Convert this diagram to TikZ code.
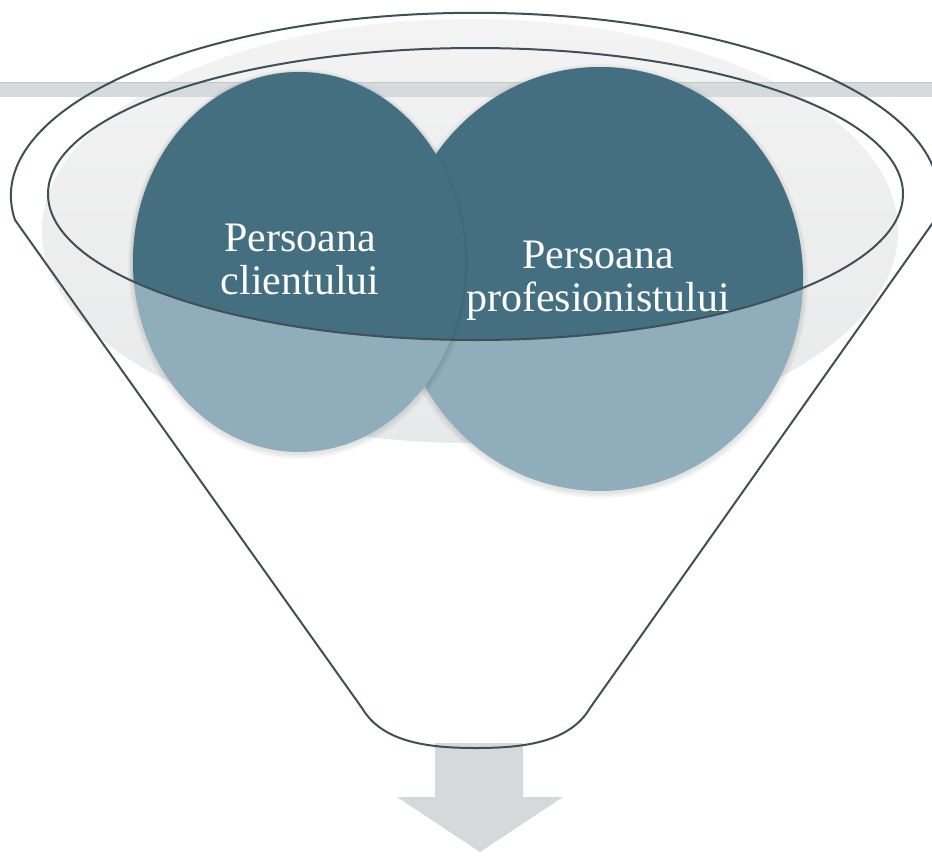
\documentclass[tikz,border=0pt]{standalone}
\usepackage{fontspec}
\setmainfont{Liberation Serif}
\begin{document}
\begin{tikzpicture}[x=1pt,y=-1pt]
\definecolor{outline}{RGB}{62,80,88}
\definecolor{bgtop}{RGB}{243,243,243}
\definecolor{bgbot}{RGB}{232,233,234}
\definecolor{barfill}{RGB}{213,218,221}
\definecolor{bartop}{RGB}{198,200,196}
\definecolor{darkteal}{RGB}{67,111,129}
\definecolor{lightteal}{RGB}{143,173,186}
\definecolor{arrowgray}{RGB}{214,217,218}
\tikzset{
  funnelline/.style={draw=outline, line width=2pt, line join=round},
  label/.style={text=white, align=center, inner sep=0pt, font=\fontsize{42}{43.5}\selectfont},
  halo/.style={fill=black, opacity=0.035}
}
\useasboundingbox (0,0) rectangle (932,855);
\fill[white] (0,0) rectangle (932,855);
% background ellipse
\shade[top color=bgtop, bottom color=bgbot] (470,231) ellipse [x radius=428pt, y radius=212pt];
% bar
\fill[barfill] (0,82) rectangle (932,97);
\draw[bartop, line width=1pt] (0,82.5) -- (932,82.5);
% right circle (light)
\foreach \d in {1,3,5} \fill[halo] (600,281) ellipse [x radius={203pt+\d pt}, y radius={212pt+\d pt}];
\fill[lightteal] (600,279) ellipse [x radius=203pt, y radius=212pt];
% left circle (light)
\foreach \d in {1,3,5} \fill[halo] (299,264) ellipse [x radius={166pt+\d pt}, y radius={190pt+\d pt}];
\fill[lightteal] (299,262) ellipse [x radius=166pt, y radius=190pt];
% dark parts inside the funnel mouth
\begin{scope}
  \clip (475.5,194) ellipse [x radius=427.5pt, y radius=146pt];
  \fill[darkteal] (600,279) ellipse [x radius=203pt, y radius=212pt];
  \foreach \d in {1,3} \fill[halo] (299,264) ellipse [x radius={166pt+\d pt}, y radius={190pt+\d pt}];
  \fill[darkteal] (299,262) ellipse [x radius=166pt, y radius=190pt];
\end{scope}
% texts
\node[label] (client) at (300,259.5) {Persoana\\clientului};
\node[label] (prof) at (598,280.5) {Persoana\\profesionistului};
% arrow
\fill[arrowgray] (435,743) -- (523,743) -- (523,797) -- (563,797) -- (480,852) -- (397,797) -- (435,797) -- cycle;
% funnel outline
\draw[funnelline] (15,220) arc[start angle=187.6, end angle=-7.6, x radius=464pt, y radius=183pt]
  -- (590,708) .. controls (570,742) and (525,748) .. (476,748)
  .. controls (427,748) and (382,742) .. (362,708) -- cycle;
\draw[funnelline] (475.5,194) ellipse [x radius=427.5pt, y radius=146pt];
\end{tikzpicture}
\end{document}
